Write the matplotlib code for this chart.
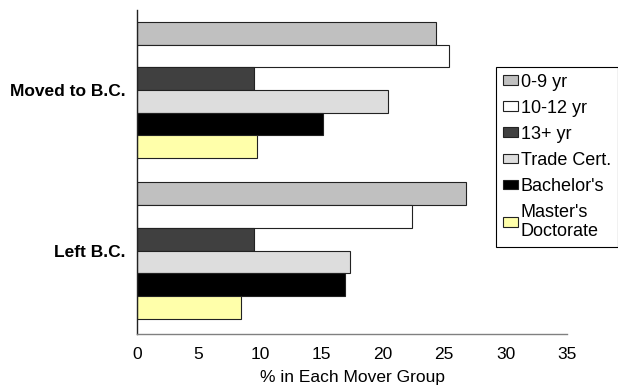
import matplotlib.pyplot as plt
import numpy as np

# mover groups and education levels
groups = ["Moved to B.C.", "Left B.C."]
levels = ["0-9 yr", "10-12 yr", "13+ yr", "Trade Cert.", "Bachelor's", "Master's\nDoctorate"]

# % in each mover group, one list per education level: [Moved to, Left]
pct_0_9 = [24.3, 26.8]
pct_10_12 = [25.4, 22.4]
pct_13 = [9.5, 9.5]
pct_trade = [20.4, 17.3]
pct_bach = [15.1, 16.9]
pct_mast = [9.8, 8.5]
series = [pct_0_9, pct_10_12, pct_13, pct_trade, pct_bach, pct_mast]

colors = ["#C0C0C0", "#FFFFFF", "#404040", "#DDDDDD", "#000000", "#FFFFAA"]

plt.rcParams.update({
    "font.family": "Liberation Sans",
    "font.size": 12.5,
})

fig = plt.figure(figsize=(6.18, 3.86), dpi=100, facecolor="white")
ax = fig.add_axes([0.2217, 0.1347, 0.6958, 0.8403])

y = np.arange(len(groups))
h = 0.1413
for i, (vals, c) in enumerate(zip(series, colors)):
    ax.barh(y + (i - 2.5) * h, vals, height=h, color=c,
            edgecolor="#222222", linewidth=0.8, label=levels[i], zorder=2)

ax.set_xlim(0, 35)
ax.set_xticks(np.arange(0, 36, 5))
ax.set_ylim(1.52, -0.5)
ax.set_yticks(y)
ax.set_yticklabels(groups, fontweight="bold")
ax.tick_params(axis="y", length=0, pad=8)
ax.tick_params(axis="x", length=0, pad=9)
ax.set_xlabel("% in Each Mover Group", labelpad=6)

for s in ["top", "right"]:
    ax.spines[s].set_visible(False)
ax.spines["left"].set_color("#222222")
ax.spines["bottom"].set_color("#808080")
ax.spines["left"].set_linewidth(1.0)
ax.spines["bottom"].set_linewidth(1.0)

leg = fig.legend(loc="upper right", bbox_to_anchor=(617.5 / 618, 1 - 66.7 / 386),
                 borderaxespad=0, fancybox=False, edgecolor="black",
                 prop={"size": 13},
                 handlelength=0.83, handleheight=0.42, handletextpad=0.15,
                 labelspacing=0.5, borderpad=0.38, framealpha=1)
leg.get_frame().set_linewidth(0.8)

fig.savefig("out.png", dpi=100)
